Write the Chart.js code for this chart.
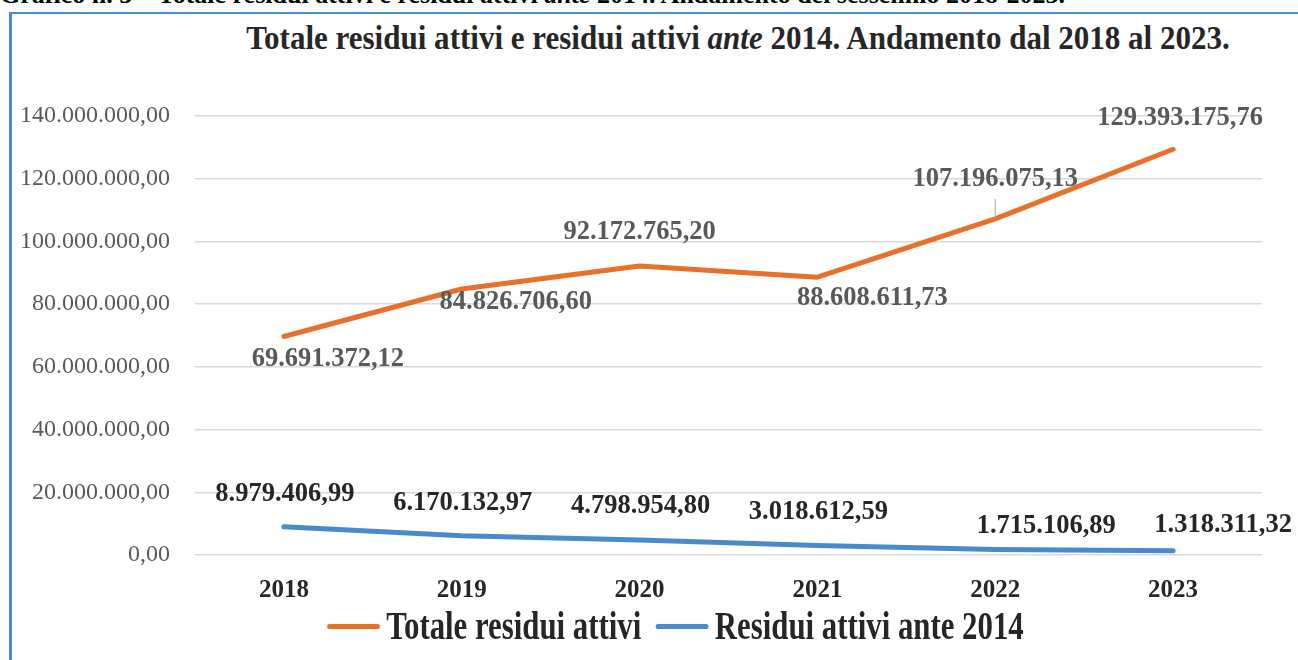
<!DOCTYPE html>
<html lang="it">
<head>
    <meta charset="UTF-8">
    <title>Totale residui attivi e residui attivi ante 2014</title>
    <script src="https://cdn.jsdelivr.net/npm/chart.js"></script>
    <style>
        body { margin: 0; background: #fff; font-family: "Liberation Serif", serif; }
        .page { position: relative; width: 1298px; height: 660px; overflow: hidden; }
        .caption {
            position: absolute; left: 0; top: -20px;
            font-size: 26px; font-weight: bold; color: #000; white-space: nowrap;
        }
        .frame {
            position: absolute; left: 9px; top: 12px; right: -5px; bottom: -5px;
            border-top: 2px solid #4a8ad0; border-left: 3px solid #4a8ad0;
        }
        .chart-box { position: absolute; left: 0; top: 0; width: 1298px; height: 660px; }
        .title {
            position: absolute; left: 738px; top: 20px;
            transform: translateX(-50%) scaleX(0.94);
            font-size: 33px; font-weight: bold; color: #262626; white-space: nowrap;
        }
        .legend {
            position: absolute; left: 327px; top: 602px;
            transform: scaleX(0.79); transform-origin: left center;
            display: flex; align-items: center; white-space: nowrap;
            font-size: 39px; font-weight: bold; color: #262626; line-height: 48px;
        }
        .legend .swatch { display: inline-block; width: 67px; height: 5px; border-radius: 3px; margin-right: 8px; }
        .legend .item { display: flex; align-items: center; margin-right: 18px; }
    </style>
</head>
<body>
<div class="page">
    <div class="caption">Grafico n. 5 – Totale residui attivi e residui attivi <i>ante</i> 2014. Andamento del sessennio 2018-2023.</div>
    <div class="frame"></div>
    <div class="title">Totale residui attivi e residui attivi <i>ante</i> 2014. Andamento dal 2018 al 2023.</div>
    <div class="chart-box"><canvas id="chart"></canvas></div>
    <div class="legend" id="legend"></div>
</div>

<script>
    // data
    const years = ['2018', '2019', '2020', '2021', '2022', '2023'];
    const totaleResidui = [69691372.12, 84826706.60, 92172765.20, 88608611.73, 107196075.13, 129393175.76];
    const residuiAnte2014 = [8979406.99, 6170132.97, 4798954.80, 3018612.59, 1715106.89, 1318311.32];
    const yTickLabels = ['0,00', '20.000.000,00', '40.000.000,00', '60.000.000,00', '80.000.000,00',
        '100.000.000,00', '120.000.000,00', '140.000.000,00'];

    // where each value label sits relative to its point (px)
    const totaleLabelOffsets = [[44, 23], [54, 13], [0, -34], [55, 21], [0, -40], [7, -31]];
    const anteLabelOffsets = [[1, -33], [1, -32], [1, -34], [1, -33], [51, -23], [50, -26]];

    function fmt(v) {
        const parts = v.toFixed(2).split('.');
        return parts[0].replace(/\B(?=(\d{3})+(?!\d))/g, '.') + ',' + parts[1];
    }

    const SERIF = '"Liberation Serif", serif';

    const valueLabels = {
        id: 'valueLabels',
        afterDatasetsDraw(chart) {
            const ctx = chart.ctx;
            ctx.save();
            ctx.font = 'bold 26.5px ' + SERIF;
            ctx.textAlign = 'center';
            ctx.textBaseline = 'middle';
            chart.data.datasets.forEach((ds, i) => {
                const meta = chart.getDatasetMeta(i);
                const offsets = i === 0 ? totaleLabelOffsets : anteLabelOffsets;
                meta.data.forEach((pt, j) => {
                    const x = pt.x + offsets[j][0];
                    const y = pt.y + offsets[j][1];
                    // leader line for the 2022 total label
                    if (i === 0 && j === 4) {
                        ctx.strokeStyle = '#a6a6a6';
                        ctx.lineWidth = 1;
                        ctx.beginPath();
                        ctx.moveTo(pt.x, pt.y);
                        ctx.lineTo(pt.x, y + 20);
                        ctx.stroke();
                    }
                    ctx.fillStyle = i === 0 ? '#595959' : '#262626';
                    ctx.fillText(fmt(ds.data[j]), x, y);
                });
            });
            ctx.restore();
        }
    };

    const chart = new Chart(document.getElementById('chart'), {
        type: 'line',
        data: {
            labels: years,
            datasets: [{
                label: 'Totale residui attivi',
                data: totaleResidui,
                borderColor: '#e8702a',
                backgroundColor: '#e8702a',
                borderWidth: 5,
                borderCapStyle: 'round',
                borderJoinStyle: 'round',
                pointRadius: 0,
                tension: 0
            }, {
                label: 'Residui attivi ante 2014',
                data: residuiAnte2014,
                borderColor: '#4a8acb',
                backgroundColor: '#4a8acb',
                borderWidth: 5,
                borderCapStyle: 'round',
                borderJoinStyle: 'round',
                pointRadius: 0,
                tension: 0
            }]
        },
        options: {
            responsive: true,
            maintainAspectRatio: false,
            animation: false,
            layout: { padding: { left: 0, right: 36, top: 116, bottom: 55 } },
            plugins: {
                title: { display: false },
                legend: { display: false },
                tooltip: { enabled: false }
            },
            scales: {
                x: {
                    offset: true,
                    grid: { display: false },
                    border: { display: false },
                    ticks: {
                        color: '#262626',
                        font: { family: SERIF, size: 25, weight: 'bold', lineHeight: 1 },
                        padding: 15,
                        maxRotation: 0
                    },
                    afterFit(scale) { scale.height = 50; }
                },
                y: {
                    min: 0,
                    max: 140000000,
                    grid: { color: '#d9d9d9', lineWidth: 1.5, drawTicks: false },
                    border: { display: false },
                    ticks: {
                        stepSize: 20000000,
                        color: '#595959',
                        font: { family: SERIF, size: 24 },
                        padding: 25,
                        callback: (v, i) => yTickLabels[i]
                    },
                    afterFit(scale) { scale.width = 195; }
                }
            }
        },
        plugins: [valueLabels]
    });

    // html legend built from the chart's datasets
    document.getElementById('legend').innerHTML = chart.data.datasets.map(ds => `
        <span class="item"><span class="swatch" style="background:${ds.borderColor}"></span>${ds.label}</span>
    `).join('');
</script>
</body>
</html>
